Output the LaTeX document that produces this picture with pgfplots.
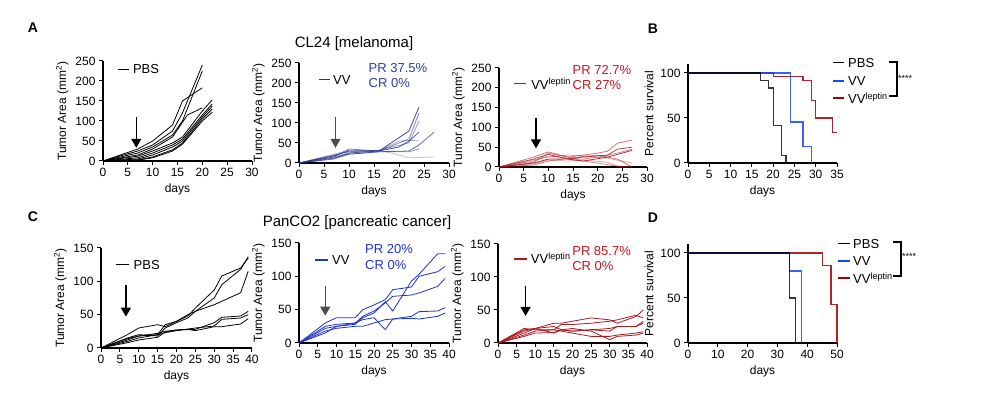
\documentclass[border=0pt]{standalone}
\usepackage{pgfplots}
\pgfplotsset{compat=1.18}
\usetikzlibrary{arrows.meta}
\usepackage{fontspec}
\setmainfont{Liberation Sans}
\definecolor{navyv}{RGB}{40,50,140}
\definecolor{navytxt}{RGB}{45,60,170}
\definecolor{bluev}{RGB}{30,50,210}
\definecolor{redl}{RGB}{170,25,35}
\definecolor{redtxt}{RGB}{200,20,30}
\definecolor{survblue}{RGB}{20,70,255}
\definecolor{survred}{RGB}{160,0,0}
\newcommand{\fs}[1]{\fontsize{#1}{#1}\selectfont}
\pgfplotsset{
  panel/.style={scale only axis, axis lines=left, axis line style={-, line width=1.1pt},
    major tick style={black, line width=1pt}, tick align=outside, major tick length=4pt,
    xlabel={days}, ylabel={Tumor Area (mm\textsuperscript{2})},
    tick label style={font=\fs{12}},
    label style={font=\fs{12}},
    /pgf/number format/assume math mode=true,
    clip=false, xmin=0, ymin=0,
    every axis plot/.append style={line width=0.8pt}},
  tumA/.style={panel, xmax=30, ymax=250, xtick={0,5,...,30}, ytick={0,50,...,250}},
  tumC/.style={panel, xmax=40, ymax=150, xtick={0,5,...,40}, ytick={0,50,100,150}},
  surv/.style={panel, ylabel={Percent survival}, ymax=110, ytick={0,50,100},
    every axis plot/.append style={line width=1.2pt, const plot}},
}
\tikzset{arr/.style={-{Triangle[length=9pt,width=10pt]}, line width=1.2pt},
  lab/.style={anchor=west, inner sep=0pt, font=\fs{13}}}
\begin{document}
\begin{tikzpicture}[x=1pt,y=1pt]
\useasboundingbox (0,0) rectangle (985,393);
% ---------- A1 PBS melanoma
\begin{axis}[tumA, at={(103pt,232pt)}, anchor=south west, width=149pt, height=100pt]
\addplot[black] coordinates {(0,0)(7,25)(10,40)(14,75)(16,120)(20,240)};
\addplot[black] coordinates {(0,0)(7,20)(10,35)(14,65)(16,100)(20,225)};
\addplot[black] coordinates {(0,0)(7,30)(10,50)(14,90)(16,150)(20,183)};
\addplot[black] coordinates {(0,0)(7,15)(10,30)(14,60)(17,115)(20,133)};
\addplot[black] coordinates {(0,0)(7,12)(10,25)(14,45)(16,60)(20,125)(22,153)};
\addplot[black] coordinates {(0,0)(7,8)(10,20)(14,40)(16,55)(20,115)(22,143)};
\addplot[black] coordinates {(0,0)(7,5)(10,15)(14,35)(16,50)(20,110)(22,137)};
\addplot[black] coordinates {(0,0)(7,3)(10,10)(14,28)(16,45)(20,105)(22,130)};
\addplot[black] coordinates {(0,0)(7,2)(10,8)(14,25)(16,42)(20,100)(22,122)};
\draw[arr, black] (axis cs:6.7,110) -- (axis cs:6.7,33);
\draw[black, line width=0.9pt] (axis cs:3,230) -- (axis cs:5.3,230);
\node[lab] at (axis cs:6.0,230) {PBS};
\end{axis}
% ---------- A2 VV melanoma
\begin{axis}[tumA, at={(299pt,230pt)}, anchor=south west, width=150pt, height=100pt]
\addplot[navyv, opacity=0.9] coordinates {(0,0)(7,18)(10,30)(16,30)(22,80)(24,140)};
\addplot[navyv, opacity=0.6] coordinates {(0,0)(7,15)(10,35)(16,30)(22,60)(24,125)};
\addplot[navyv, opacity=0.5] coordinates {(0,0)(7,20)(10,28)(16,32)(22,50)(24,105)};
\addplot[navyv, opacity=0.8] coordinates {(0,0)(7,12)(10,25)(16,30)(20,40)(22,55)(24,77)};
\addplot[navyv, opacity=0.4] coordinates {(0,0)(7,22)(10,32)(16,30)(20,55)(24,57)};
\addplot[navyv, opacity=0.7] coordinates {(0,0)(7,10)(10,22)(16,28)(22,30)(24,45)(27,77)};
\addplot[navyv, opacity=0.3] coordinates {(0,0)(7,14)(10,25)(16,32)(20,20)(22,13)(27,15)};
\addplot[navyv, opacity=0.5] coordinates {(0,0)(7,16)(10,22)(16,28)(22,28)(24,35)};
\draw[arr, black!70] (axis cs:7.3,115) -- (axis cs:7.3,38);
\draw[navyv, line width=0.9pt] (axis cs:4,208) -- (axis cs:6.2,208);
\node[lab] at (axis cs:6.8,208) {VV};
\node[lab, text=navytxt] at (axis cs:13.9,237) {PR 37.5\%};
\node[lab, text=navytxt] at (axis cs:13.9,200) {CR 0\%};
\end{axis}
% ---------- A3 VVleptin melanoma
\begin{axis}[tumA, at={(499pt,226pt)}, anchor=south west, width=148pt, height=99pt]
\addplot[redl, opacity=0.6] coordinates {(0,0)(7,25)(10,38)(14,25)(17,30)(20,35)(22,40)(24,60)(27,68)};
\addplot[redl, opacity=0.8] coordinates {(0,0)(7,20)(10,32)(14,20)(17,25)(22,30)(24,45)(27,50)};
\addplot[redl, opacity=0.5] coordinates {(0,0)(7,15)(10,28)(14,22)(17,20)(20,25)(24,35)(27,45)};
\addplot[redl, opacity=0.9] coordinates {(0,0)(7,10)(10,20)(14,20)(17,15)(22,25)(27,42)};
\addplot[redl, opacity=0.5] coordinates {(0,0)(7,12)(10,35)(14,25)(17,15)(20,10)(24,2)(27,0)};
\addplot[redl, opacity=0.4] coordinates {(0,0)(7,8)(10,18)(14,15)(17,18)(22,12)(24,2)(27,0)};
\addplot[redl, opacity=0.6] coordinates {(0,0)(7,5)(10,15)(14,22)(20,30)(24,20)(27,0)};
\addplot[redl, opacity=0.4] coordinates {(0,0)(7,18)(10,25)(14,30)(17,28)(22,22)(27,10)};
\draw[arr, black] (axis cs:7.5,124) -- (axis cs:7.5,47);
\draw[redl, line width=0.9pt] (axis cs:3.1,210) -- (axis cs:5.5,210);
\node[lab] at (axis cs:6.5,210) {VV\textsuperscript{leptin}};
\node[lab, text=redtxt] at (axis cs:14.9,245) {PR 72.7\%};
\node[lab, text=redtxt] at (axis cs:14.9,206) {CR 27\%};
\end{axis}
% ---------- B survival
\begin{axis}[surv, at={(688pt,230pt)}, anchor=south west, width=149pt, height=99pt,
  xmax=35, xtick={0,5,...,35}]
\addplot[survred, opacity=0.85] coordinates {(0,100)(20,96)(27,92)(29,69)(30,50)(34,34)(35,34)};
\addplot[survblue, opacity=0.85] coordinates {(0,100)(24,45.5)(27,18.2)(29,0)};
\addplot[black, opacity=0.8] coordinates {(0,100)(17,91.7)(19,83.3)(20,41.7)(22,8.3)(23,0)};
\end{axis}
% ---------- C1 PBS pancreatic
\begin{axis}[tumC, at={(101pt,45pt)}, anchor=south west, width=151pt, height=100pt]
\addplot[black] coordinates {(0,0)(7,20)(10,30)(15,35)(17,32)(20,40)(23,48)(25,60)(30,87)(32,108)(37,120)(39,135)};
\addplot[black] coordinates {(0,0)(7,12)(10,18)(15,20)(17,35)(20,40)(23,50)(25,55)(30,75)(32,95)(37,118)(39,137)};
\addplot[black] coordinates {(0,0)(7,15)(10,20)(15,18)(17,30)(20,38)(23,45)(25,55)(30,65)(32,70)(37,83)(39,115)};
\addplot[black] coordinates {(0,0)(7,14)(10,18)(15,22)(17,25)(20,27)(25,28)(30,38)(32,46)(37,48)(39,55)};
\addplot[black] coordinates {(0,0)(7,10)(10,15)(15,20)(17,23)(20,26)(25,30)(30,33)(32,43)(37,45)(39,50)};
\addplot[black] coordinates {(0,0)(7,8)(10,12)(15,16)(17,24)(20,27)(23,28)(25,26)(30,32)(32,32)(37,36)(39,44)};
\draw[arr, black] (axis cs:6.6,95) -- (axis cs:6.6,47);
\draw[black, line width=0.9pt] (axis cs:4.1,125) -- (axis cs:7.5,125);
\node[lab] at (axis cs:8.6,125) {PBS};
\end{axis}
% ---------- C2 VV pancreatic
\begin{axis}[tumC, at={(299pt,50pt)}, anchor=south west, width=150pt, height=100pt]
\addplot[bluev] coordinates {(0,0)(7,22)(10,25)(15,28)(17,38)(20,45)(23,62)(25,48)(30,93)(32,103)(37,134)(39,134)};
\addplot[bluev] coordinates {(0,0)(7,30)(10,38)(15,38)(17,50)(20,57)(23,65)(25,80)(30,84)(32,100)(37,107)(39,115)};
\addplot[bluev] coordinates {(0,0)(7,25)(10,28)(15,30)(17,40)(20,48)(23,60)(25,70)(30,72)(32,75)(37,85)(39,97)};
\addplot[bluev] coordinates {(0,0)(7,15)(10,25)(15,30)(17,35)(20,38)(23,20)(25,36)(30,37)(32,36)(37,40)(39,45)};
\addplot[bluev] coordinates {(0,0)(7,18)(10,22)(15,25)(17,25)(20,30)(23,35)(25,36)(30,40)(32,47)(37,48)(39,53)};
\draw[arr, black!70] (axis cs:7,86) -- (axis cs:7,41);
\draw[bluev, line width=2pt] (axis cs:4.2,125) -- (axis cs:7.8,125);
\node[lab] at (axis cs:8.8,125) {VV};
\node[lab, text=bluev] at (axis cs:17.6,141) {PR 20\%};
\node[lab, text=bluev] at (axis cs:17.6,117) {CR 0\%};
\end{axis}
% ---------- C3 VVleptin pancreatic
\begin{axis}[tumC, at={(498pt,50pt)}, anchor=south west, width=149pt, height=99pt]
\addplot[redl] coordinates {(0,0)(7,20)(10,22)(15,30)(17,30)(20,33)(25,38)(30,35)(32,30)(37,40)(39,50)};
\addplot[redl] coordinates {(0,0)(7,22)(10,20)(15,20)(17,28)(20,28)(25,30)(30,33)(32,35)(37,42)(39,38)};
\addplot[redl] coordinates {(0,0)(7,15)(10,22)(15,25)(17,20)(20,18)(25,20)(30,22)(32,25)(37,25)(39,33)};
\addplot[redl] coordinates {(0,0)(7,18)(10,22)(15,15)(17,20)(20,18)(25,20)(30,18)(32,25)(37,25)(39,30)};
\addplot[redl] coordinates {(0,0)(7,12)(10,18)(15,20)(17,18)(20,15)(25,10)(30,10)(32,12)(37,15)(39,17)};
\addplot[redl] coordinates {(0,0)(7,10)(10,15)(15,16)(17,20)(20,22)(25,18)(30,5)(32,10)(37,12)(39,15)};
\draw[arr, black] (axis cs:7.4,87) -- (axis cs:7.4,41);
\draw[redl, line width=2pt] (axis cs:4.3,128) -- (axis cs:7.8,128);
\node[lab] at (axis cs:8.8,128) {VV\textsuperscript{leptin}};
\node[lab, text=redtxt] at (axis cs:19.9,140) {PR 85.7\%};
\node[lab, text=redtxt] at (axis cs:19.9,116) {CR 0\%};
\end{axis}
% ---------- D survival
\begin{axis}[surv, at={(688pt,50pt)}, anchor=south west, width=149pt, height=99pt,
  xmax=50, xtick={0,10,...,50}]
\addplot[survred, opacity=0.85] coordinates {(0,100)(45,85.7)(48,42.9)(50,0)};
\addplot[survblue, opacity=0.85] coordinates {(0,100)(34,80)(38,0)};
\addplot[black, opacity=0.8] coordinates {(0,100)(34,50)(36,0)};
\end{axis}
% ---------- survival legends and brackets
\draw[black, line width=1pt] (833,330) -- (844,330); \node[lab] at (848,330) {PBS};
\draw[survblue, line width=2pt] (833,312) -- (844,312); \node[lab] at (848,312) {VV};
\draw[survred, line width=2pt] (833,295) -- (844,295); \node[lab] at (848,295) {VV\textsuperscript{leptin}};
\draw[line width=1.1pt] (889,331) -- (897,331) -- (897,297) -- (889,297);
\node[anchor=west, inner sep=0pt, font=\fs{9}] at (898,315) {****};
\draw[black, line width=1pt] (838,149) -- (850,149); \node[lab] at (853,149) {PBS};
\draw[survblue, line width=2pt] (838,132) -- (850,132); \node[lab] at (853,132) {VV};
\draw[survred, line width=2pt] (838,115) -- (850,115); \node[lab] at (853,115) {VV\textsuperscript{leptin}};
\draw[line width=1.1pt] (893,151) -- (901,151) -- (901,117) -- (893,117);
\node[anchor=west, inner sep=0pt, font=\fs{9}] at (902,137) {****};
% ---------- titles and panel letters
\node[font=\fs{15}] at (354,349) {CL24 [melanoma]};
\node[font=\fs{15}] at (357,170) {PanCO2 [pancreatic cancer]};
\node[font=\bfseries\fs{14}] at (33,365) {A};
\node[font=\bfseries\fs{14}] at (653,364) {B};
\node[font=\bfseries\fs{14}] at (33,176) {C};
\node[font=\bfseries\fs{14}] at (653,175) {D};
\end{tikzpicture}
\end{document}
